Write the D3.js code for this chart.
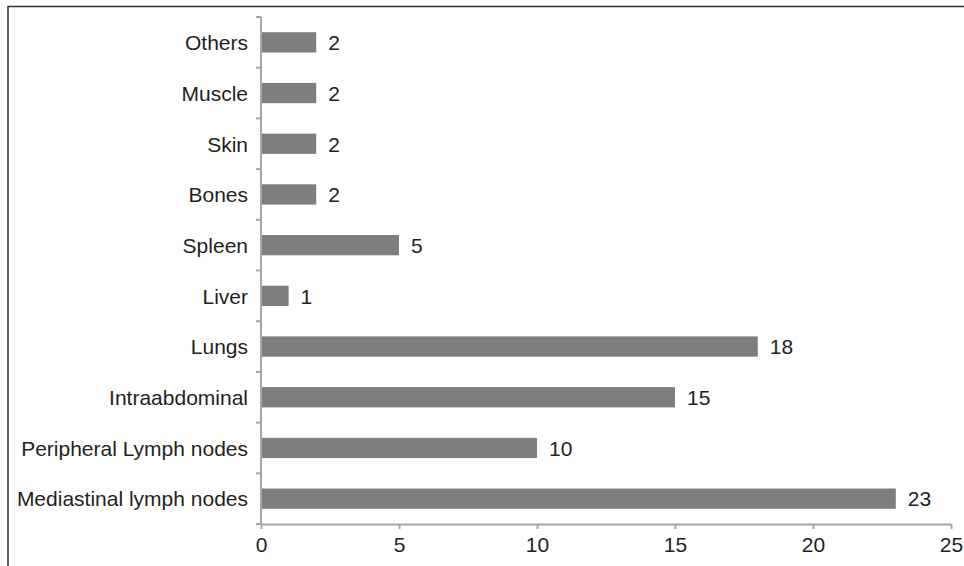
<!DOCTYPE html>
<html>
<head>
<meta charset="utf-8">
<script src="https://cdn.jsdelivr.net/npm/d3@7"></script>
<style>
  html, body { margin: 0; padding: 0; background: #fff; }
  svg { display: block; font-family: "Liberation Sans", Arial, sans-serif; }
</style>
</head>
<body>
<svg id="chart" width="964" height="566"></svg>
<script>
// Sites of involvement, listed top to bottom
const categories = ["Others", "Muscle", "Skin", "Bones", "Spleen", "Liver", "Lungs",
  "Intraabdominal", "Peripheral Lymph nodes", "Mediastinal lymph nodes"];
const counts = [2, 2, 2, 2, 5, 1, 18, 15, 10, 23];
const xTicks = [0, 5, 10, 15, 20, 25];

const svg = d3.select("#chart");
const plotLeft = 261, plotRight = 951, plotTop = 17, plotBottom = 524;
const fontSize = 21;
const textColor = "#231f20";

// outer frame (only left and top edges fall inside the canvas)
svg.append("rect")
  .attr("x", 8).attr("y", 6.5).attr("width", 1000).attr("height", 1000)
  .attr("fill", "none").attr("stroke", "#333").attr("stroke-width", 1.5);

const x = d3.scaleLinear().domain([0, 25]).range([plotLeft, plotRight]);
const y = d3.scaleBand().domain(categories).range([plotTop, plotBottom]).paddingInner(0.6).paddingOuter(0.3);
const yb = d3.scaleBand().domain(categories).range([plotTop, plotBottom]);

const axisColor = "#a6a6a6";

// bars
svg.append("g").selectAll("rect")
  .data(categories)
  .join("rect")
  .attr("x", x(0))
  .attr("y", d => y(d))
  .attr("width", (d, i) => x(counts[i]) - x(0))
  .attr("height", y.bandwidth())
  .attr("fill", "#7d7e80");

// value labels
svg.append("g").selectAll("text")
  .data(categories)
  .join("text")
  .attr("x", (d, i) => x(counts[i]) + 12)
  .attr("y", d => y(d) + y.bandwidth() / 2)
  .attr("dy", "0.37em")
  .attr("font-size", fontSize)
  .attr("fill", textColor)
  .text((d, i) => counts[i]);

// x axis
const xAxis = svg.append("g")
  .attr("transform", `translate(0,${plotBottom})`)
  .call(d3.axisBottom(x).tickValues(xTicks).tickSize(5).tickSizeOuter(0).tickPadding(8));
xAxis.select(".domain").attr("stroke", axisColor).attr("stroke-width", 2);
xAxis.selectAll(".tick line").attr("stroke", axisColor).attr("stroke-width", 2);
xAxis.selectAll(".tick text").attr("font-size", fontSize).attr("fill", textColor)
  .attr("font-family", "Liberation Sans, Arial, sans-serif");

// y axis line with ticks at band boundaries
const yAxis = svg.append("g");
yAxis.append("line")
  .attr("x1", plotLeft).attr("x2", plotLeft).attr("y1", plotTop).attr("y2", plotBottom)
  .attr("stroke", axisColor).attr("stroke-width", 2);
const boundaries = categories.map(d => yb(d)).concat([plotBottom]);
yAxis.selectAll("line.tk")
  .data(boundaries)
  .join("line")
  .attr("class", "tk")
  .attr("x1", plotLeft - 5).attr("x2", plotLeft)
  .attr("y1", d => d).attr("y2", d => d)
  .attr("stroke", axisColor).attr("stroke-width", 2);

// category labels
svg.append("g").selectAll("text")
  .data(categories)
  .join("text")
  .attr("x", plotLeft - 13)
  .attr("y", d => yb(d) + yb.bandwidth() / 2)
  .attr("dy", "0.37em")
  .attr("text-anchor", "end")
  .attr("font-size", fontSize)
  .attr("fill", textColor)
  .text(d => d);
</script>
</body>
</html>
